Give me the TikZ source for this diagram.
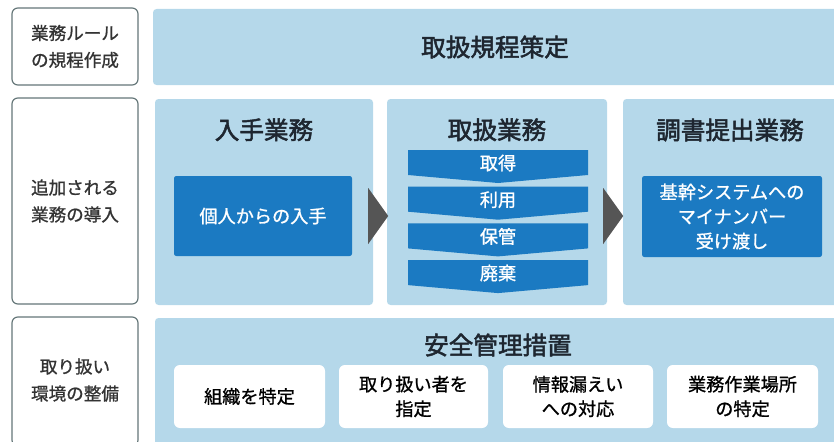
\documentclass[tikz,border=0pt]{standalone}
\usepackage{fontspec}
\newfontfamily\jpfont[FakeBold=1]{Noto Sans CJK JP}
\newfontfamily\jpheavy[FakeBold=2]{Noto Sans CJK JP}
\usetikzlibrary{positioning,fit,calc}

\definecolor{bandblue}{RGB}{181,216,234}
\definecolor{boxblue}{RGB}{27,122,194}
\definecolor{arrowgray}{RGB}{85,85,85}
\definecolor{titletext}{RGB}{30,38,48}
\definecolor{labeledge}{RGB}{100,118,120}

\tikzset{
  sidebox/.style={draw=labeledge, line width=1pt, fill=white, rounded corners=5pt, inner sep=0pt},
  band/.style={fill=bandblue, rounded corners=3pt, inner sep=0pt},
  bluebox/.style={fill=boxblue, rounded corners=2pt, inner sep=0pt},
  whitebox/.style={fill=white, rounded corners=5pt, inner sep=0pt},
  sidetext/.style={font=\jpfont\fontsize{15}{23}\selectfont, text=black!80, align=center},
  headtext/.style={font=\jpheavy\fontsize{21}{25}\selectfont, text=titletext},
  bodytext/.style={font=\jpfont\fontsize{15.5}{21}\selectfont, align=center},
}

\begin{document}
\begin{tikzpicture}[x=0.3mm,y=-0.3mm]
    \useasboundingbox (0,0) rectangle (834,441);

    % left column
    \node[sidebox, fit={(12,8) (138,85)}] (side1) {};
    \node[sidebox, fit={(12,98) (138,304)}] (side2) {};
    \node[sidebox, fit={(12,317) (138,446)}] (side3) {};
    \node[sidetext] (sidelab1) at (side1.center) {業務ルール\\の規程作成};
    \node[sidetext] (sidelab2) at (side2.center) {追加される\\業務の導入};
    \node[sidetext] (sidelab3) at (75,380) {取り扱い\\環境の整備};

    % rule row
    \node[band, fit={(153,9) (838,85)}] (rule) {};
    \node[headtext] (ruletitle) at (495,47) {取扱規程策定};

    % task panels
    \node[band, fit={(155,99) (373,305)}] (p1) {};
    \node[band, fit={(387,99) (607,305)}] (p2) {};
    \node[band, fit={(623,99) (838,305)}] (p3) {};
    \node[headtext] (p1title) at ($(p1.north)+(0,31)$) {入手業務};
    \node[headtext] (p2title) at ($(p2.north)+(0,31)$) {取扱業務};
    \node[headtext] (p3title) at (730,130) {調書提出業務};

    \node[bluebox, fit={(174,176) (352,256)}] (b1) {};
    \node[bodytext, text=white] (b1text) at (b1.center) {個人からの入手};
    \node[bluebox, fit={(642,176) (822,257)}] (b3) {};
    \node[bodytext, text=white] (b3text) at (b3.center) {基幹システムへの\\マイナンバー\\受け渡し};

    % handling steps
    \foreach \t [count=\i] in {取得,利用,保管,廃棄} {
        \coordinate (c\i) at (498,{150+36.7*(\i-1)});
        \fill[boxblue] ($(c\i)+(-90,0)$) -- ++(180,0) -- ++(0,25) -- ++(-90,8) -- ++(-90,-8) -- cycle;
        \node[bodytext, text=white] (s\i) at ($(c\i)+(0,13)$) {\t};
    }

    % flow pointers
    \fill[arrowgray] ($(b1.east)+(16,-28)$) -- ($(b1.east)+(36,0)$) -- ($(b1.east)+(16,28)$) -- cycle;
    \fill[arrowgray] ($(p2.east |- b1.east)+(-4,-28)$) -- ($(p2.east |- b1.east)+(16,0)$) -- ($(p2.east |- b1.east)+(-4,28)$) -- cycle;

    % safety row
    \node[band, fit={(155,318) (838,446)}] (safe) {};
    \node[headtext] (safetitle) at (498,345) {安全管理措置};
    \node[whitebox, fit={(174,365) (325,428)}] (w1) {};
    \node[whitebox, fit={(339,365) (488,428)}] (w2) {};
    \node[whitebox, fit={(503,365) (653,428)}] (w3) {};
    \node[whitebox, fit={(667,365) (818,428)}] (w4) {};
    \node[bodytext] (w1text) at (w1.center) {組織を特定};
    \node[bodytext] (w2text) at (w2.center) {取り扱い者を\\指定};
    \node[bodytext] (w3text) at (w3.center) {情報漏えい\\への対応};
    \node[bodytext] (w4text) at (w4.center) {業務作業場所\\の特定};
\end{tikzpicture}
\end{document}
